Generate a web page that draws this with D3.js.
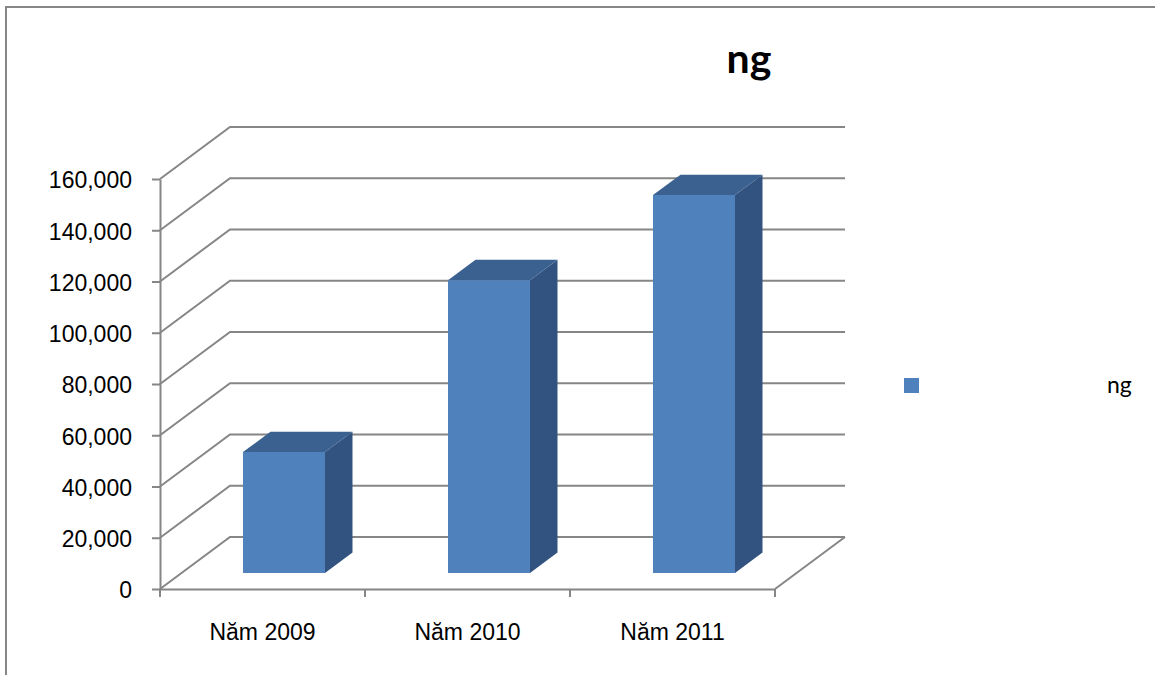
<!DOCTYPE html>
<html>
<head>
<meta charset="utf-8">
<script src="https://cdn.jsdelivr.net/npm/d3@7/dist/d3.min.js"></script>
<style>
  html, body { margin: 0; padding: 0; background: #fff; }
  svg { display: block; font-family: Lato, "Open Sans", sans-serif; }
</style>
</head>
<body>
<svg id="chart" width="1155" height="675"></svg>
<script>
// Chart data
const categories = ["Năm 2009", "Năm 2010", "Năm 2011"];
const values = [47200, 114300, 147500];
const yTicks = [0, 20000, 40000, 60000, 80000, 100000, 120000, 140000, 160000];
const titleText = "ng";
const seriesName = "ng";

const svg = d3.select("#chart");

// Chart-area frame (runs off the right and bottom edges)
svg.append("rect")
  .attr("x", 6).attr("y", 7)
  .attr("width", 1200).attr("height", 700)
  .attr("fill", "none").attr("stroke", "#868686").attr("stroke-width", 2);

// Oblique 3D projection: full depth of the plot box
const depthX = 70, depthY = -52;
const x = d3.scaleBand().domain(categories).range([160, 775]).paddingInner(0).paddingOuter(0);
const y = d3.scaleLinear().domain([0, 160000]).range([589, 179]);
const proj = (px, v, d) => [px + d * depthX, y(v) + d * depthY];

const gridColor = "#868686";
const [x0, x1] = x.range();

// Back wall gridlines with the side-wall diagonals
const grid = svg.append("g").attr("stroke", gridColor).attr("stroke-width", 2).attr("fill", "none");
yTicks.forEach(t => {
  const a = proj(x0, t, 0), b = proj(x0, t, 1), c = proj(x1, t, 1);
  grid.append("polyline").attr("points", [a, b, c].map(p => p.join(",")).join(" "));
});
// Floor outline (right diagonal)
{
  const a = proj(x1, 0, 0), b = proj(x1, 0, 1);
  grid.append("line").attr("x1", a[0]).attr("y1", a[1]).attr("x2", b[0]).attr("y2", b[1]);
}

// Value axis
const yAxis = svg.append("g")
  .attr("transform", `translate(${x0},0)`)
  .call(d3.axisLeft(y).tickValues(yTicks).tickFormat(d3.format(",")).tickSize(8).tickPadding(20).tickSizeOuter(0));
yAxis.select(".domain").attr("stroke", gridColor).attr("stroke-width", 2);
yAxis.selectAll(".tick line").attr("stroke", gridColor).attr("stroke-width", 2);
yAxis.selectAll(".tick text").attr("font-size", 23).attr("fill", "#000").attr("dy", "0.38em");

// Category axis: labels centred in each band, ticks on band boundaries
const xAxis = svg.append("g")
  .attr("transform", `translate(0,${y(0)})`)
  .call(d3.axisBottom(x).tickSize(0).tickPadding(35).tickSizeOuter(0));
xAxis.select(".domain").attr("stroke", gridColor).attr("stroke-width", 2);
xAxis.selectAll(".tick text").attr("font-size", 23).attr("fill", "#000");
const bounds = categories.map(c => x(c)).concat([x1]);
xAxis.selectAll("line.boundary").data(bounds).enter().append("line")
  .attr("class", "boundary")
  .attr("x1", d => d).attr("x2", d => d)
  .attr("y1", 0).attr("y2", 8)
  .attr("stroke", gridColor).attr("stroke-width", 2);

// 3D bars
const d0 = 0.307, d1 = 0.70;
const barFrac = 0.4;
const colors = { front: "#4f81bd", top: "#3a6190", side: "#32537f" };
const bars = svg.append("g");
categories.forEach((c, i) => {
  const v = values[i];
  const left = x(c) + x.bandwidth() * (1 - barFrac) / 2;
  const right = left + x.bandwidth() * barFrac;
  const pts = (arr) => arr.map(p => p.join(",")).join(" ");
  const g = bars.append("g");
  // right side face
  g.append("polygon").attr("fill", colors.side)
    .attr("points", pts([proj(right, 0, d0), proj(right, 0, d1), proj(right, v, d1), proj(right, v, d0)]));
  // top face
  g.append("polygon").attr("fill", colors.top)
    .attr("points", pts([proj(left, v, d0), proj(right, v, d0), proj(right, v, d1), proj(left, v, d1)]));
  // front face
  g.append("polygon").attr("fill", colors.front)
    .attr("points", pts([proj(left, 0, d0), proj(right, 0, d0), proj(right, v, d0), proj(left, v, d0)]));
});

// Title
svg.append("text")
  .attr("x", 749).attr("y", 73)
  .attr("text-anchor", "middle")
  .attr("font-size", 41).attr("font-weight", "bold").attr("fill", "#000")
  .text(titleText);

// Legend
const legend = svg.append("g");
legend.append("rect").attr("x", 904).attr("y", 378).attr("width", 15).attr("height", 15).attr("fill", colors.front);
legend.append("text").attr("x", 1107).attr("y", 393).attr("font-size", 23).attr("fill", "#000").text(seriesName);
</script>
</body>
</html>
